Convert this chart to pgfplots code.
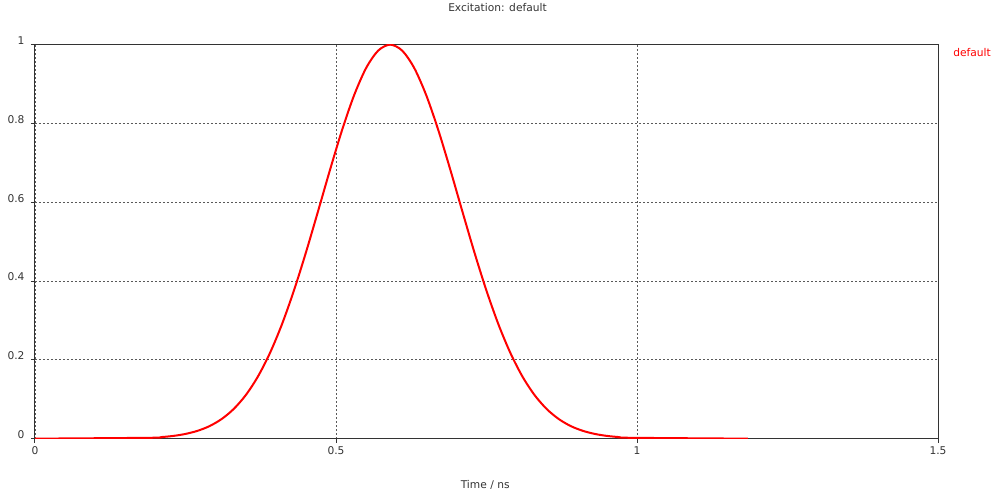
\documentclass[border=0pt]{standalone}
\usepackage{fontspec}
\setmainfont{DejaVu Sans}
\usepackage{pgfplots}
\pgfplotsset{compat=1.18}
\definecolor{axisgray}{HTML}{333333}
\definecolor{pulsered}{HTML}{FF0000}

\begin{document}
\fontsize{8pt}{10pt}\selectfont
\begin{tikzpicture}
\begin{axis}[
    scale only axis,
    width=677.25pt, height=295.5pt,
    xmin=0, xmax=1.5, ymin=0, ymax=1,
    xtick={0,0.5,1,1.5},
    ytick={0,0.2,0.4,0.6,0.8,1},
    xtick pos=bottom, ytick pos=left,
    grid=major,
    grid style={black!65, dash pattern=on 1.5pt off 1.5pt, line width=0.6pt},
    axis line style={axisgray, line width=0.75pt},
    tick style={axisgray, line width=0.75pt},
    tick align=outside,
    major tick length=3pt,
    tick label style={font=\fontsize{8pt}{10pt}\selectfont, text=axisgray},
    yticklabel style={yshift=3pt, xshift=-2pt},
    /pgf/number format/assume math mode=true,
    title={Excitation: default},
    title style={at={(0.5,1)}, anchor=base, yshift=18.75pt, xshift=8.25pt, text=axisgray, font=\fontsize{8pt}{10pt}\selectfont},
    xlabel={Time / ns},
    xlabel style={at={(0.5,0)}, anchor=base, yshift=-37.5pt, xshift=-1pt, text=axisgray, font=\fontsize{8pt}{10pt}\selectfont},
]
\addplot[pulsered, line width=1.5pt, smooth, tension=0.5] coordinates {
    (0,0) (0.19,0.0022) (0.21,0.0040) (0.23,0.0070) (0.25,0.0120) (0.27,0.0199)
    (0.29,0.0319) (0.31,0.0498) (0.33,0.0752) (0.35,0.1103) (0.37,0.1569)
    (0.39,0.2164) (0.41,0.2894) (0.43,0.3754) (0.45,0.4723) (0.47,0.5763)
    (0.49,0.6820) (0.51,0.7828) (0.53,0.8713) (0.55,0.9406) (0.57,0.9848)
    (0.59,1.0000) (0.61,0.9848) (0.63,0.9406) (0.65,0.8713) (0.67,0.7828)
    (0.69,0.6820) (0.71,0.5763) (0.73,0.4723) (0.75,0.3754) (0.77,0.2894)
    (0.79,0.2164) (0.81,0.1569) (0.83,0.1103) (0.85,0.0752) (0.87,0.0498)
    (0.89,0.0319) (0.91,0.0199) (0.93,0.0120) (0.95,0.0070) (0.97,0.0040)
    (0.99,0.0022) (1.184,0)
};
\coordinate (bbsw) at (rel axis cs:-0.03876,-0.14213);
\coordinate (bbne) at (rel axis cs:1.06312,1.10660);
\coordinate (legpos) at (rel axis cs:1,1);
\end{axis}
\node[anchor=base west, text=pulsered, inner sep=0pt, xshift=11.25pt, yshift=-9pt] at (legpos) {default};
\path (bbsw) rectangle (bbne);
\end{tikzpicture}
\end{document}
